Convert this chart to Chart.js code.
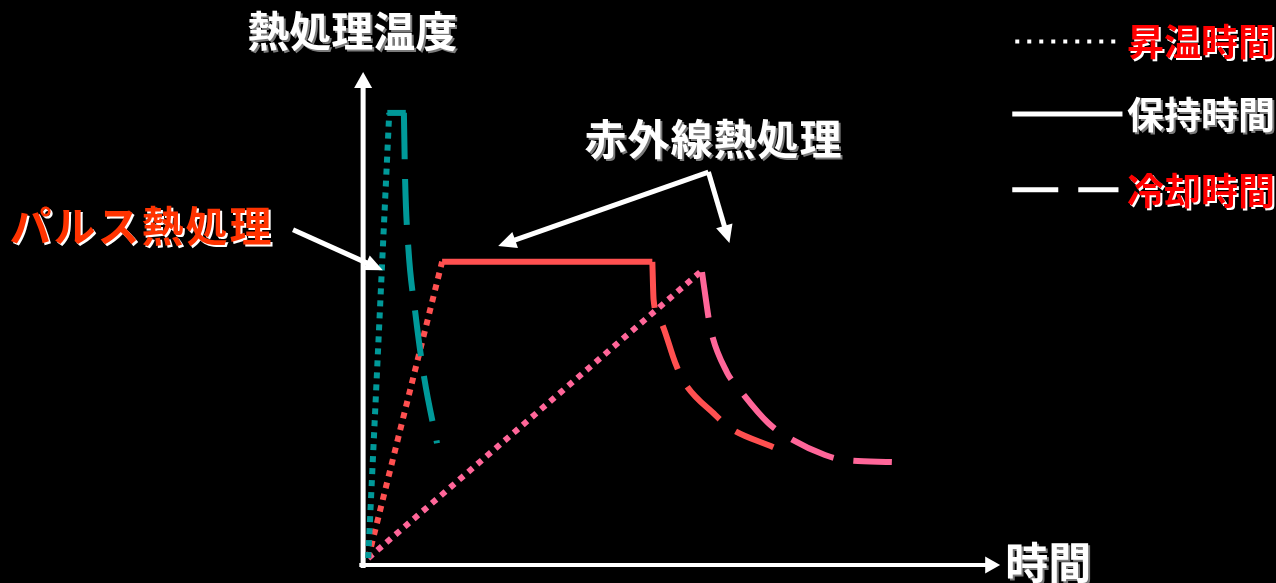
<!DOCTYPE html>
<html>
<head>
<meta charset="utf-8">
<script src="https://cdn.jsdelivr.net/npm/chart.js@4/dist/chart.umd.min.js"></script>
<style>
    html, body { margin: 0; padding: 0; background: #000; overflow: hidden; }
    #heatChart { display: block; }
</style>
</head>
<body>
<canvas id="heatChart" width="1276" height="583"></canvas>
<script>
// time (x) and temperature (y) in arbitrary units
const pulseRamp = [[0.8, 1.4], [4.1, 91.7]];
const pulseHold = [[3.8, 91.7], [6.7, 91.7]];
const pulseCool = [[6.4, 91.7], [6.6, 77.7], [7.1, 64.3], [8.2, 51.1], [9.6, 37.9], [11.6, 24.7]];

const irRamp = [[0.8, 1.4], [12.4, 61.5]];
const irHold = [[12.4, 61.5], [45.4, 61.5]];
const irCool = [[45.4, 61.5], [45.6, 53.8], [46.6, 49.7], [49.0, 41.0], [50.2, 37.5], [55.3, 30.4], [57.6, 27.8], [64.4, 23.9]];

const slowRamp = [[0.8, 1.4], [52.9, 59.4]];
const slowCool = [[53.2, 59.4], [54.0, 52.1], [54.5, 48.1], [57.1, 39.1], [58.9, 35.9], [63.6, 28.8], [66.1, 26.4], [72.5, 22.3], [75.5, 21.3], [83.0, 20.9]];

// axis ends
const yAxisLine = [[0, -0.6], [0, 100]];
const xAxisLine = [[-0.6, 0], [100, 0]];

// annotation arrows: [from, to]
const pulseArrow = [[-11.0, 68.0], [3.1, 59.8]];
const irArrowA = [[54.2, 79.7], [21.2, 64.7]];
const irArrowB = [[54.2, 79.7], [57.5, 65.3]];

// labels: text, x, y
const labelTexts = ["熱処理温度", "赤外線熱処理", "パルス熱処理", "時間"];
const labelPos = [[-1.7, 108.3], [55.0, 86.4], [-34.8, 68.8], [100.8, 0.4]];

// legend entries
const legendTexts = ["昇温時間", "保持時間", "冷却時間"];
const legendY = [106.2, 91.5, 76.1];
const legendLineX = [101.9, 119.2];
const legendTextX = 119.9;

const TEAL = '#009999';
const RED = '#ff5050';
const PINK = '#ff6699';
const DOT = [6, 6];
const DASH = [46, 20];

function toXY(pairs) {
    return pairs.map(p => ({ x: p[0], y: p[1] }));
}

function seg(label, pairs, color, dash, curved) {
    return {
        label: label,
        data: toXY(pairs),
        borderColor: color,
        backgroundColor: 'transparent',
        borderWidth: 6,
        borderDash: dash,
        borderCapStyle: 'butt',
        pointRadius: 0,
        fill: false,
        cubicInterpolationMode: curved ? 'monotone' : 'default',
        tension: 0
    };
}

function drawArrow(ctx, chart, pts, width, headLen, headW) {
    const xs = chart.scales.x, ys = chart.scales.y;
    const x1 = xs.getPixelForValue(pts[0][0]), y1 = ys.getPixelForValue(pts[0][1]);
    const x2 = xs.getPixelForValue(pts[1][0]), y2 = ys.getPixelForValue(pts[1][1]);
    const ang = Math.atan2(y2 - y1, x2 - x1);
    const bx = x2 - headLen * Math.cos(ang), by = y2 - headLen * Math.sin(ang);
    ctx.save();
    ctx.strokeStyle = '#fff';
    ctx.fillStyle = '#fff';
    ctx.lineWidth = width;
    ctx.lineCap = 'butt';
    ctx.beginPath();
    ctx.moveTo(x1, y1);
    ctx.lineTo(bx + 2 * Math.cos(ang), by + 2 * Math.sin(ang));
    ctx.stroke();
    ctx.beginPath();
    ctx.moveTo(x2, y2);
    ctx.lineTo(bx + headW / 2 * Math.sin(ang), by - headW / 2 * Math.cos(ang));
    ctx.lineTo(bx - headW / 2 * Math.sin(ang), by + headW / 2 * Math.cos(ang));
    ctx.closePath();
    ctx.fill();
    ctx.restore();
}

function drawText(ctx, text, px, py, color, align, size, spacing) {
    ctx.save();
    ctx.font = 'bold ' + size + 'px "Noto Sans CJK JP", sans-serif';
    ctx.letterSpacing = (spacing || 0) + 'px';
    ctx.textAlign = align;
    ctx.textBaseline = 'middle';
    ctx.shadowColor = color === '#ffffff' ? '#7a7a7a' : '#ffffff';
    ctx.shadowOffsetX = 2;
    ctx.shadowOffsetY = 2;
    ctx.shadowBlur = 0;
    ctx.fillStyle = color;
    ctx.fillText(text, px, py);
    ctx.restore();
}

const axesPlugin = {
    id: 'axesPlugin',
    beforeDatasetsDraw(chart) {
        const ctx = chart.ctx;
        drawArrow(ctx, chart, yAxisLine, 5, 16, 18);
        drawArrow(ctx, chart, xAxisLine, 4, 15, 17);
    },
    afterDatasetsDraw(chart) {
        const ctx = chart.ctx;
        const xs = chart.scales.x, ys = chart.scales.y;

        drawArrow(ctx, chart, pulseArrow, 5, 18, 16);
        drawArrow(ctx, chart, irArrowA, 5, 18, 17);
        drawArrow(ctx, chart, irArrowB, 5, 18, 17);

        const labelColors = ['#ffffff', '#ffffff', '#ff3300', '#ffffff'];
        const labelAlign = ['center', 'center', 'center', 'left'];
        const labelSizes = [42, 42, 42, 43];
        const labelSpacing = [0, 1, 2, 0];
        labelTexts.forEach((t, i) => {
            drawText(ctx, t, xs.getPixelForValue(labelPos[i][0]), ys.getPixelForValue(labelPos[i][1]),
                labelColors[i], labelAlign[i], labelSizes[i], labelSpacing[i]);
        });

        // legend
        const lx1 = xs.getPixelForValue(legendLineX[0]);
        const lx2 = xs.getPixelForValue(legendLineX[1]);
        const dashes = [[4, 8], [], [46, 20]];
        const widths = [4, 5, 5];
        const starts = [lx1 + 3, lx1, lx1];
        const ends = [lx2 - 6, lx2, lx2 - 4];
        const textColors = ['#ff0000', '#ffffff', '#ff0000'];
        legendTexts.forEach((t, i) => {
            const py = ys.getPixelForValue(legendY[i]);
            ctx.save();
            ctx.strokeStyle = '#fff';
            ctx.lineWidth = widths[i];
            ctx.setLineDash(dashes[i]);
            ctx.beginPath();
            ctx.moveTo(starts[i], py);
            ctx.lineTo(ends[i], py);
            ctx.stroke();
            ctx.restore();
            drawText(ctx, t, xs.getPixelForValue(legendTextX), py + 1, textColors[i], 'left', 37, 0);
        });
    }
};

new Chart(document.getElementById('heatChart'), {
    type: 'line',
    data: {
        datasets: [
            seg('パルス 昇温', pulseRamp, TEAL, DOT, false),
            seg('パルス 保持', pulseHold, TEAL, [], false),
            seg('パルス 冷却', pulseCool, TEAL, DASH, true),
            seg('赤外線 昇温', irRamp, RED, DOT, false),
            seg('赤外線 保持', irHold, RED, [], false),
            seg('赤外線 冷却', irCool, RED, DASH, true),
            seg('赤外線(長) 昇温', slowRamp, PINK, DOT, false),
            seg('赤外線(長) 冷却', slowCool, PINK, DASH, true)
        ]
    },
    options: {
        responsive: false,
        animation: false,
        devicePixelRatio: 1,
        layout: { padding: 0 },
        plugins: {
            legend: { display: false },
            tooltip: { enabled: false }
        },
        scales: {
            x: { type: 'linear', min: -57, max: 143.3, display: false },
            y: { type: 'linear', min: -3.65, max: 114.6, display: false }
        }
    },
    plugins: [axesPlugin]
});
</script>
</body>
</html>
